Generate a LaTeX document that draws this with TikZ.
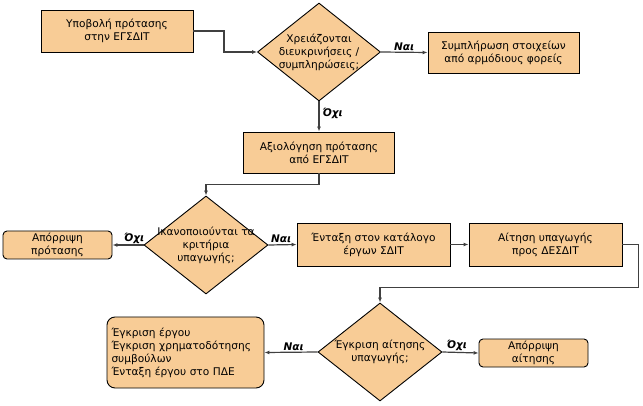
\documentclass[tikz,border=0pt]{standalone}
\usepackage{fontspec}
\setmainfont{DejaVu Sans}
\usetikzlibrary{shapes.geometric,arrows.meta}
\definecolor{boxfill}{RGB}{248,204,150}
\definecolor{linec}{RGB}{64,64,64}
\begin{document}
\begin{tikzpicture}[x=1pt,y=-1pt,
  txt/.style={font=\fontsize{10.6}{13}\selectfont},
  box/.style={txt,draw=black,line width=0.9pt,fill=boxfill,align=center,inner sep=0pt},
  rbox/.style={box,rounded corners=4pt},
  dia/.style={draw=black,line width=0.9pt,fill=boxfill,diamond,inner sep=0pt},
  dtext/.style={txt,align=center,inner sep=0pt},
  conn/.style={draw=linec,line width=1.2pt,-{Latex[length=5pt,width=4pt]}},
  lab/.style={font=\fontsize{10.5}{11}\selectfont\bfseries\itshape,inner sep=1pt}
]
\useasboundingbox (0,0) rectangle (643,406);

\node[box,minimum width=152pt,minimum height=42pt] (b1) at (117,31) {Υποβολή πρότασης\\στην ΕΓΣΔΙΤ};
\node[dia,minimum width=123pt,minimum height=98pt] (d1) at (319,52) {};
\node[dtext] (t1) at (d1) {Χρειάζονται\\διευκρινήσεις /\\συμπληρώσεις;};
\node[box,minimum width=151pt,minimum height=41pt] (b2) at (503.5,52.5) {Συμπλήρωση στοιχείων\\από αρμόδιους φορείς};
\node[box,minimum width=151pt,minimum height=41pt] (b3) at (319,152.5) {Αξιολόγηση πρότασης\\από ΕΓΣΔΙΤ};
\node[dia,minimum width=124pt,minimum height=98pt] (d2) at (206,245) {};
\node[dtext] (t2) at (d2) {Ικανοποιούνται τα\\κριτήρια\\υπαγωγής;};
\node[rbox,minimum width=109pt,minimum height=28pt] (r1) at (57.5,245) {Απόρριψη\\πρότασης};
\node[box,minimum width=153pt,minimum height=43pt] (b4) at (373.5,244.5) {Ένταξη στον κατάλογο\\έργων ΣΔΙΤ};
\node[box,minimum width=153pt,minimum height=43pt] (b5) at (545.5,244.5) {Αίτηση υπαγωγής\\προς ΔΕΣΔΙΤ};
\node[dia,minimum width=124pt,minimum height=98pt] (d3) at (380,352) {};
\node[dtext] (t3) at (d3) {Έγκριση αίτησης\\υπαγωγής;};
\node[rbox,rounded corners=8pt,align=left,text width=148pt,inner xsep=4.5pt,minimum height=71pt] (r2) at (185.5,352.5) {Έγκριση έργου\\Έγκριση χρηματοδότησης\\συμβούλων\\Ένταξη έργου στο ΠΔΕ};
\node[rbox,minimum width=109pt,minimum height=28pt] (r3) at (533.5,353) {Απόρριψη\\αίτησης};

\draw[conn] (b1.east) -| ([xshift=-33pt]d1.west) -- (d1.west);
\draw[conn] (d1.east) -- node[lab,above] (l1) {Ναι} (b2.west);
\draw[conn] (d1.south) -- node[lab,right,xshift=2pt,pos=0.4] (l2) {Όχι} (b3.north);
\draw[conn] (b3.south) -- ++(0,11) -| (d2.north);
\draw[conn] (d2.west) -- node[lab,above,pos=0.3] (l3) {Όχι} (r1.east);
\draw[conn] (d2.east) -- node[lab,above,pos=0.45] (l4) {Ναι} (b4.west);
\draw[conn] (b4.east) -- (b5.west);
\draw[conn] (b5.east) -- ++(16,0) |- ([yshift=15pt]d3.north) -- (d3.north);
\draw[conn] (d3.west) -- node[lab,above,pos=0.45] (l5) {Ναι} (r2.east);
\draw[conn] (d3.east) -- node[lab,above,pos=0.4] (l6) {Όχι} (r3.west);
\end{tikzpicture}
\end{document}
